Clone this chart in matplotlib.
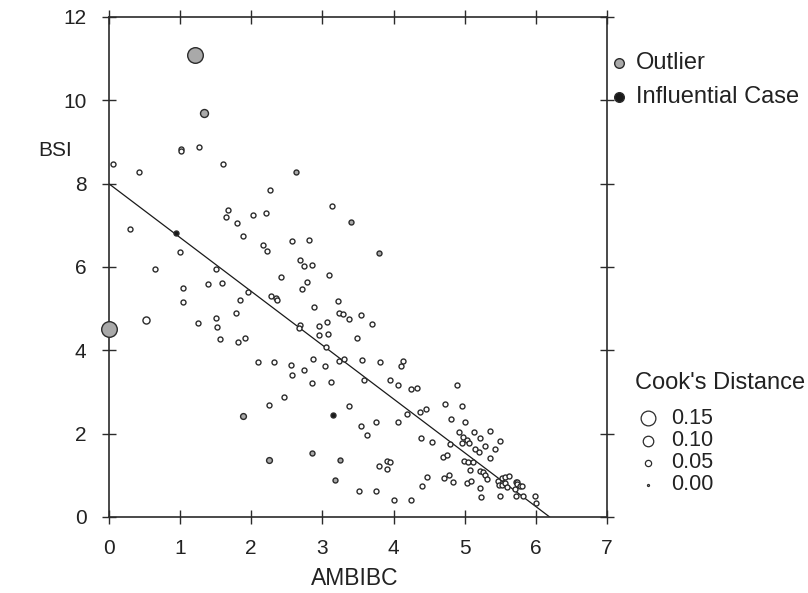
import matplotlib
matplotlib.use("Agg")
import matplotlib.pyplot as plt
from matplotlib.lines import Line2D

plt.rcParams['font.family'] = ['Liberation Sans', 'DejaVu Sans']

# ---- data ----
amb = [1.21, 1.34, 1.01, 1.01, 1.27, 0.06, 0.43, 1.61, 2.63, 2.27,
       3.13, 3.41, 1.67, 1.65, 1.80, 2.03, 2.21, 0.30, 0.94, 1.88,
       2.17, 2.22, 2.58, 2.81, 1.00, 2.68, 2.74, 2.86, 0.65, 1.50,
       1.05, 1.05, 1.40, 1.59, 2.42, 3.10, 2.79, 2.72, 1.95, 1.85,
       2.28, 2.35, 2.36, 3.22, 2.88, 1.79, 1.50, 1.52, 1.26, 0.53,
       0.00, 1.56, 1.82, 1.92, 3.23, 3.29, 3.38, 3.54, 3.06, 2.96,
       2.68, 2.67, 2.95, 3.08, 3.49, 3.05, 2.10, 2.32, 2.56, 2.87,
       2.74, 2.58, 3.04, 3.23, 3.30, 2.85, 3.12, 2.46, 2.25, 1.89,
       3.15, 3.38, 3.54, 2.25, 2.85, 3.25, 3.18, 3.51, 3.80, 3.70,
       3.56, 3.81, 3.58, 4.10, 4.13, 3.95, 4.06, 4.24, 4.33, 4.89,
       4.19, 4.37, 4.45, 4.72, 4.96, 4.81, 5.01, 3.76, 4.06, 3.63,
       4.39, 4.54, 4.92, 5.13, 5.36, 5.21, 5.50, 4.98, 5.03, 4.96,
       5.06, 4.79, 5.14, 5.20, 5.28, 5.43, 5.35, 4.70, 4.75, 4.99,
       5.04, 5.11, 3.79, 3.91, 3.95, 3.91, 5.08, 5.21, 5.25, 5.28,
       5.31, 4.47, 4.71, 4.78, 4.84, 4.40, 5.03, 5.09, 5.21, 5.23,
       5.47, 5.48, 5.52, 5.53, 5.56, 5.62, 5.57, 5.59, 5.50, 5.72,
       5.74, 5.73, 5.78, 5.80, 5.70, 5.72, 5.82, 5.99, 6.00, 3.75,
       4.00, 4.25]
bsi = [11.09, 9.70, 8.82, 8.78, 8.89, 8.46, 8.28, 8.47, 8.29, 7.84,
       7.46, 7.08, 7.36, 7.21, 7.06, 7.25, 7.29, 6.92, 6.81, 6.73,
       6.53, 6.38, 6.63, 6.64, 6.36, 6.17, 6.02, 6.05, 5.94, 5.96,
       5.50, 5.16, 5.59, 5.61, 5.76, 5.81, 5.64, 5.46, 5.40, 5.21,
       5.31, 5.25, 5.21, 5.19, 5.04, 4.89, 4.77, 4.56, 4.65, 4.73,
       4.52, 4.28, 4.19, 4.29, 4.89, 4.86, 4.75, 4.85, 4.68, 4.58,
       4.61, 4.53, 4.36, 4.40, 4.30, 4.08, 3.72, 3.72, 3.65, 3.78,
       3.52, 3.40, 3.63, 3.74, 3.78, 3.22, 3.24, 2.88, 2.69, 2.42,
       2.45, 2.67, 2.19, 1.36, 1.54, 1.36, 0.88, 0.62, 6.34, 4.64,
       3.76, 3.72, 3.29, 3.63, 3.74, 3.28, 3.17, 3.07, 3.09, 3.16,
       2.48, 2.52, 2.58, 2.70, 2.65, 2.34, 2.28, 2.27, 2.27, 1.97,
       1.88, 1.80, 2.04, 2.04, 2.06, 1.88, 1.83, 1.92, 1.84, 1.76,
       1.76, 1.75, 1.63, 1.56, 1.69, 1.63, 1.40, 1.44, 1.48, 1.34,
       1.32, 1.31, 1.21, 1.34, 1.32, 1.15, 1.12, 1.11, 1.08, 1.00,
       0.90, 0.96, 0.94, 1.00, 0.84, 0.74, 0.82, 0.87, 0.69, 0.47,
       0.86, 0.76, 0.76, 0.92, 0.96, 0.98, 0.80, 0.72, 0.49, 0.84,
       0.83, 0.78, 0.73, 0.73, 0.66, 0.49, 0.49, 0.50, 0.32, 0.62,
       0.41, 0.40]
# Cook's distance for each case (default small)
cooks = [0.035] * len(amb)
cooks[0] = 0.16
cooks[1] = 0.07
cooks[49] = 0.06
cooks[50] = 0.16
cooks[79] = 0.045
cooks[83] = 0.045
# case status: 'o' outlier, 'i' influential, '' ordinary
status = [''] * len(amb)
for k in (0, 1, 8, 11, 50, 79, 83, 84, 85, 86, 88):
    status[k] = 'o'
for k in (18, 80):
    status[k] = 'i'

line_x = [0.0, 6.19]
line_y = [8.0, 0.0]

xticks = [0, 1, 2, 3, 4, 5, 6, 7]
yticks = [0, 2, 4, 6, 8, 10, 12]
legend_status = ['Outlier', 'Influential Case']
legend_cooks = [0.15, 0.10, 0.05, 0.00]

# ---- styling ----
DPI = 100
W, H = 808, 593
EDGE = '#2b2b2b'
GREY = '#a9a9a9'
BLACK = '#1a1a1a'
TXT = '#222222'
FS = 15

def diam_px(d):
    return 2.0 + 85.0 * d

def area_pt(d):
    return (diam_px(d) * 72.0 / DPI) ** 2

fig = plt.figure(figsize=(W / DPI, H / DPI), dpi=DPI)
x0, x7 = 108.7, 607.1
y0, y12 = 516.8, 17.0
ax = fig.add_axes([x0 / W, 1 - y0 / H, (x7 - x0) / W, (y0 - y12) / H])
ax.set_xlim(0, 7)
ax.set_ylim(0, 12)

ax.plot(line_x, line_y, color=BLACK, lw=0.9, zorder=2)

fills = {'': 'white', 'o': GREY, 'i': BLACK}
for xs, ys, d, st in zip(amb, bsi, cooks, status):
    ax.scatter([xs], [ys], s=area_pt(d), facecolor=fills[st],
               edgecolor=EDGE, linewidth=1.0, zorder=3, clip_on=False)

for sp in ax.spines.values():
    sp.set_color(EDGE)
    sp.set_linewidth(1.2)
ax.set_xticks(xticks)
ax.set_yticks(yticks)
ax.tick_params(direction='inout', length=10, width=1.0, color=EDGE,
               labelsize=FS, labelcolor=TXT, pad=11,
               top=True, right=True, labeltop=False, labelright=False)

ax.set_xlabel('AMBIBC', fontsize=16.5, color=TXT)
ax.xaxis.set_label_coords(0.494, -0.1225)
ax.xaxis.label.set_va('center')
ax.set_ylabel('BSI', fontsize=FS, color=TXT, rotation=0,
              ha='center', va='center')
ax.yaxis.set_label_coords(-0.108, 0.733)

# legend: case status
ms = diam_px(0.09) * 72.0 / DPI
leg_y = [63, 97]
for lab, yy, fc in zip(legend_status, leg_y, [GREY, BLACK]):
    fig.add_artist(Line2D([619 / W], [1 - yy / H], transform=fig.transFigure,
                          marker='o', markersize=ms, markerfacecolor=fc,
                          markeredgecolor=EDGE, markeredgewidth=1.0,
                          linestyle='none'))
    fig.text(636 / W, 1 - yy / H, lab, fontsize=17, color=TXT,
             va='center', ha='left')

# legend: Cook's distance
fig.text(635 / W, 1 - 383 / H, "Cook's Distance", fontsize=17, color=TXT,
         va='center', ha='left')
cy = [418, 441, 463, 485]
for val, yy in zip(legend_cooks, cy):
    fig.add_artist(Line2D([648 / W], [1 - yy / H], transform=fig.transFigure,
                          marker='o', markersize=diam_px(val) * 72.0 / DPI,
                          markerfacecolor='white', markeredgecolor=EDGE,
                          markeredgewidth=0.9, linestyle='none'))
    fig.text(671 / W, 1 - yy / H, f"{val:.2f}", fontsize=15.5, color=TXT,
             va='center', ha='left')

fig.savefig('out.png', dpi=DPI)
